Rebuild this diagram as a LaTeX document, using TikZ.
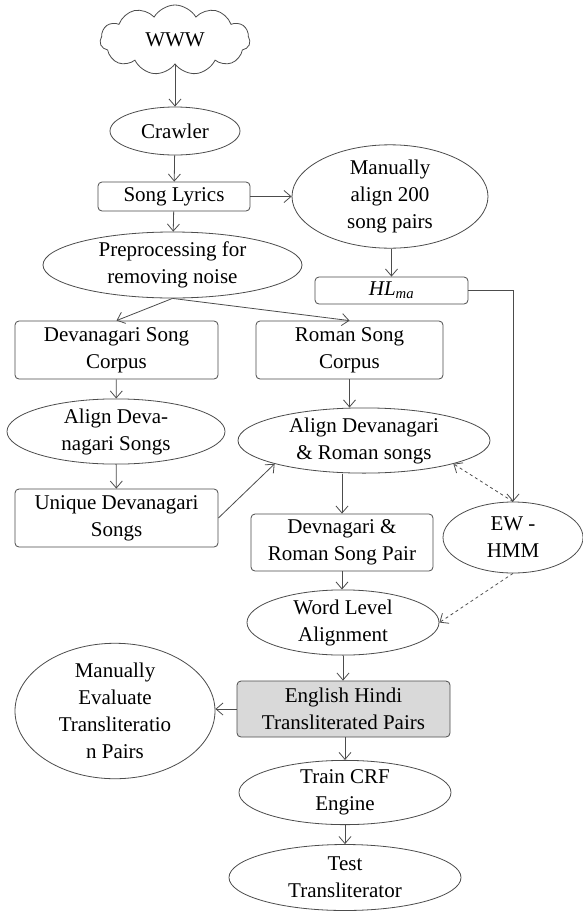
\documentclass[tikz,border=0pt]{standalone}
\usepackage{fontspec}
\setmainfont{Liberation Serif}
\usetikzlibrary{shapes.geometric,shapes.symbols,arrows.meta}
\begin{document}
\begin{tikzpicture}[x=1pt,y=-1pt,
  box/.style={draw=black!70, line width=0.8pt, font=\fontsize{21}{27}\selectfont, align=center, inner sep=0pt},
  rbox/.style={box, rectangle, rounded corners=4pt},
  ell/.style={box, ellipse},
  arr/.style={draw=black!70, line width=0.8pt, -{Straight Barb[length=7pt,width=12pt]}},
  darr/.style={arr, dashed}]
\useasboundingbox[fill=white] (0,0) rectangle (582,913);

\node[box, cloud, cloud puffs=11, cloud puff arc=120, aspect=2.2, minimum width=150pt, minimum height=70pt] (www) at (175,40) {WWW};
\node[ell, minimum width=130pt, minimum height=48pt] (crawler) at (175,131) {Crawler};
\node[rbox, minimum width=152pt, minimum height=29pt] (lyrics) at (174,196.5) {Song Lyrics};
\node[ell, minimum width=196pt, minimum height=93pt] (manual) at (390,196.5) {Manually\\align 200\\song pairs};
\node[ell, minimum width=259pt, minimum height=66pt] (prep) at (172.5,265) {Preprocessing for\\removing noise};
\node[rbox, minimum width=153pt, minimum height=27pt] (hl) at (391.5,290.5) {\textit{HL}\textsubscript{\textit{ma}}};
\node[rbox, minimum width=203pt, minimum height=58pt] (devcorp) at (116.5,350) {Devanagari Song\\Corpus};
\node[rbox, minimum width=187pt, minimum height=58pt] (romcorp) at (349.5,350) {Roman Song\\Corpus};
\node[ell, minimum width=218pt, minimum height=63pt] (aligndev) at (116,431.5) {Align Deva-\\nagari Songs};
\node[ell, minimum width=252pt, minimum height=65pt] (aligndr) at (364,440.5) {Align Devanagari\\\& Roman songs};
\node[rbox, minimum width=203pt, minimum height=58pt] (unique) at (116.5,518) {Unique Devanagari\\Songs};
\node[rbox, minimum width=182pt, minimum height=57pt] (pair) at (342,542.5) {Devnagari \&\\Roman Song Pair};
\node[ell, minimum width=140pt, minimum height=71pt] (ew) at (513,537.5) {EW -\\HMM};
\node[ell, minimum width=192pt, minimum height=61pt] (wl) at (343,622.5) {Word Level\\Alignment};
\node[ell, minimum width=200pt, minimum height=126pt] (meval) at (115,711) {Manually\\Evaluate\\Transliteratio\\n Pairs};
\node[rbox, fill=black!15, minimum width=213pt, minimum height=56pt] (ehp) at (343.5,709) {English Hindi\\Transliterated Pairs};
\node[ell, minimum width=212pt, minimum height=60pt] (crf) at (345,792.5) {Train CRF\\Engine};
\node[ell, minimum width=232pt, minimum height=66pt] (test) at (345,877.5) {Test\\Transliterator};

\draw[arr] (www) -- (crawler);
\draw[arr] (crawler) -- (lyrics);
\draw[arr] (lyrics.east) -- (manual.west);
\draw[arr] (lyrics) -- (prep);
\draw[arr] (manual.south -| hl.north) -- (hl.north);
\draw[arr] (hl.east) -| (ew.north);
\draw[arr] (prep.south) -- (devcorp.north);
\draw[arr] (prep.south) -- (romcorp.north);
\draw[arr] (devcorp) -- (aligndev);
\draw[arr] (aligndev) -- (unique);
\draw[arr] (romcorp.south) -- (romcorp.south |- aligndr.north);
\draw[arr] (unique.east) -- (aligndr.south west);
\draw[darr] (ew.north) -- (aligndr.south east);
\draw[arr] (pair.north |- aligndr.south) -- (pair.north);
\draw[arr] (pair.south) -- (pair.south |- wl.north);
\draw[darr] (ew.south) -- (wl.east);
\draw[arr] (wl.south) -- (wl.south |- ehp.north);
\draw[arr] (ehp.west) -- (ehp.west -| meval.east);
\draw[arr] (ehp.south -| crf.north) -- (crf.north);
\draw[arr] (crf) -- (test);
\end{tikzpicture}
\end{document}
